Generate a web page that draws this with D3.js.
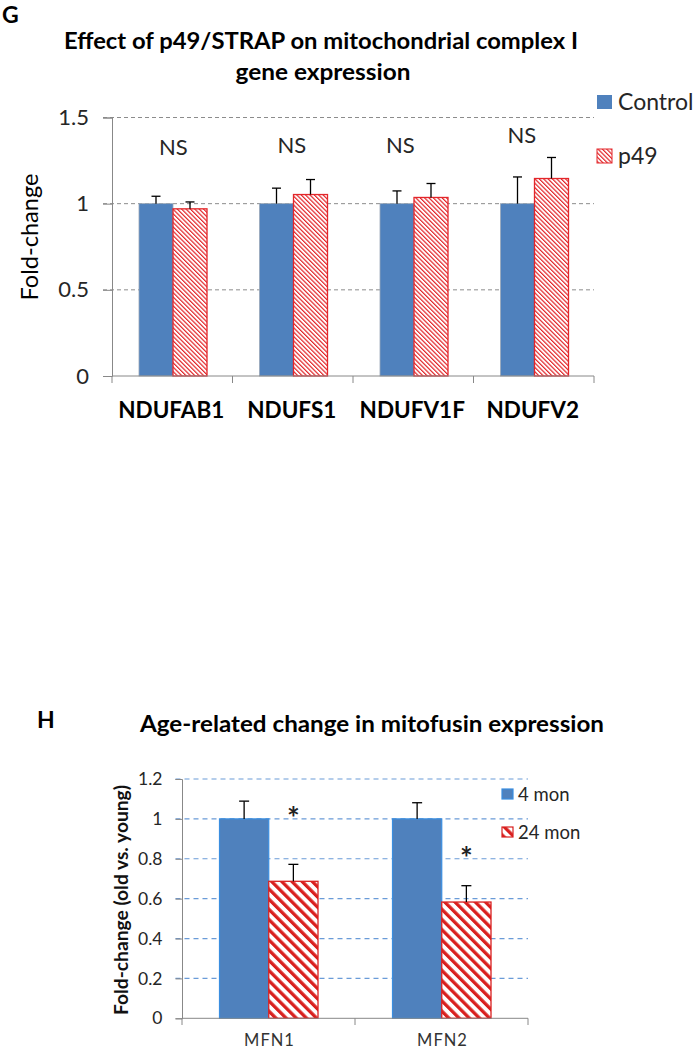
<!DOCTYPE html>
<html><head><meta charset="utf-8">
<script src="https://cdn.jsdelivr.net/npm/d3@7"></script>
<style>body{margin:0;background:#fff}svg{display:block;font-family:Lato,"Open Sans",sans-serif}</style>
</head><body>
<script>
// ---- Panel G data ----
const genesG = ["NDUFAB1","NDUFS1","NDUFV1F","NDUFV2"];
const seriesG = ["Control","p49"];
const controlG = [1.00,1.00,1.00,1.00];
const controlErrG = [0.043,0.09,0.074,0.155];
const p49G = [0.97,1.053,1.036,1.146];
const p49ErrG = [0.04,0.087,0.081,0.122];
const nsLabelsG = ["NS","NS","NS","NS"];
const nsLevelG = [1.33,1.34,1.34,1.40];
const ticksG = [0,0.5,1,1.5];
const tickLabelsG = ["0","0.5","1","1.5"];

// ---- Panel H data ----
const genesH = ["MFN1","MFN2"];
const seriesH = ["4 mon","24 mon"];
const youngH = [1.00,1.00];
const youngErrH = [0.089,0.081];
const oldH = [0.687,0.583];
const oldErrH = [0.085,0.082];
const sigLabelsH = ["*","*"];
const sigLevelH = [1.035,0.835];
const ticksH = [0,0.2,0.4,0.6,0.8,1,1.2];
const tickLabelsH = ["0","0.2","0.4","0.6","0.8","1","1.2"];

const W=695,H=1050;
const svg=d3.select("body").append("svg").attr("width",W).attr("height",H);
const defs=svg.append("defs");
function stripe(id,s,w,color){
  const p=defs.append("pattern").attr("id",id).attr("patternUnits","userSpaceOnUse")
    .attr("width",s).attr("height",s).attr("patternTransform","rotate(-45)");
  p.append("rect").attr("width",s).attr("height",s).attr("fill","#fff");
  p.append("rect").attr("x",0).attr("width",w).attr("height",s).attr("fill",color);
}
stripe("pG",3.1,1.2,"#E3262A");
stripe("pH",7.2,3.3,"#D9201F");
const blue="#4F81BD";

function fitText(sel,len){ sel.attr("textLength",len).attr("lengthAdjust","spacingAndGlyphs"); return sel; }

// ================= Panel G =================
const gG=svg.append("g");
const yG=d3.scaleLinear().domain([0,1.5]).range([376,117.5]);
const xG=d3.scaleBand().domain(genesG).range([112,594]);
const x1G=d3.scaleBand().domain(seriesG).range([27,95]);

gG.append("text").attr("x",2).attr("y",23).attr("font-weight","bold").attr("font-size",23).text("G");
fitText(gG.append("text").attr("x",321).attr("y",49).attr("text-anchor","middle").attr("font-weight","bold").attr("font-size",22).text("Effect of p49/STRAP on mitochondrial complex I"),514);
fitText(gG.append("text").attr("x",323).attr("y",80).attr("text-anchor","middle").attr("font-weight","bold").attr("font-size",22).text("gene expression"),175);

// gridlines
gG.selectAll("line.grid").data(ticksG.filter(d=>d>0)).join("line")
  .attr("x1",103).attr("x2",594).attr("y1",d=>yG(d)).attr("y2",d=>yG(d))
  .attr("stroke","#8c8c8c").attr("stroke-width",1).attr("stroke-dasharray","4,3");

const yAxG=d3.axisLeft(yG).tickValues(ticksG).tickFormat((d,i)=>tickLabelsG[i]).tickSize(9).tickPadding(14);
const yaG=gG.append("g").attr("transform","translate(112,0)").call(yAxG);
yaG.select(".domain").attr("stroke","#888");
yaG.selectAll(".tick line").attr("stroke","#888");
yaG.selectAll("text").attr("font-size",22).attr("fill","#262626").attr("font-family","Lato,sans-serif");

// bars
const grpG=gG.selectAll("g.grp").data(genesG).join("g").attr("transform",d=>`translate(${xG(d)},0)`);
grpG.append("rect").attr("x",x1G("Control")).attr("width",x1G.bandwidth())
  .attr("y",(d,i)=>yG(controlG[i])).attr("height",(d,i)=>yG(0)-yG(controlG[i]))
  .attr("fill",blue).attr("stroke","#9aa7b8").attr("stroke-width",0.8);
grpG.append("rect").attr("x",x1G("p49")).attr("width",x1G.bandwidth())
  .attr("y",(d,i)=>yG(p49G[i])).attr("height",(d,i)=>yG(0)-yG(p49G[i]))
  .attr("fill","url(#pG)").attr("stroke","#E3262A").attr("stroke-width",1.3);
function errbar(g,cx,v,cap){
  g.append("line").attr("x1",cx).attr("x2",cx).attr("y1",(d,i)=>v.yv(i)).attr("y2",(d,i)=>v.ye(i)).attr("stroke","#000").attr("stroke-width",1.3);
  g.append("line").attr("x1",cx-cap).attr("x2",cx+cap).attr("y1",(d,i)=>v.ye(i)).attr("y2",(d,i)=>v.ye(i)).attr("stroke","#000").attr("stroke-width",1.3);
}
errbar(grpG,x1G("Control")+x1G.bandwidth()/2,{yv:i=>yG(controlG[i]),ye:i=>yG(controlG[i]+controlErrG[i])},4.5);
errbar(grpG,x1G("p49")+x1G.bandwidth()/2,{yv:i=>yG(p49G[i]),ye:i=>yG(p49G[i]+p49ErrG[i])},4.5);

// NS labels
const nsShift=[1,-1,-13,-12];
grpG.append("text").attr("x",(d,i)=>xG.bandwidth()/2+nsShift[i]).attr("y",(d,i)=>yG(nsLevelG[i])+8)
  .attr("text-anchor","middle").attr("font-size",22).attr("fill","#262626").text((d,i)=>nsLabelsG[i]);

// x axis
gG.append("line").attr("x1",112).attr("x2",594).attr("y1",376).attr("y2",376).attr("stroke","#888");
gG.selectAll("line.xt").data([112].concat(genesG.map(d=>xG(d)+xG.bandwidth()))).join("line")
  .attr("x1",d=>d).attr("x2",d=>d).attr("y1",376).attr("y2",383).attr("stroke","#888");
gG.selectAll("text.xl").data(genesG).join("text")
  .attr("x",d=>xG(d)+xG.bandwidth()/2-1).attr("y",418).attr("text-anchor","middle")
  .attr("font-weight","bold").attr("font-size",22.5).attr("fill","#000").text(d=>d);

// y label
fitText(gG.append("text").attr("transform","translate(38,237) rotate(-90)").attr("text-anchor","middle")
  .attr("font-size",24).attr("fill","#000").text("Fold-change"),127);

// legend
const legG=gG.selectAll("g.leg").data(seriesG).join("g").attr("transform",(d,i)=>`translate(597,${95+i*54})`);
legG.append("rect").attr("width",15).attr("height",14).attr("fill",(d,i)=>i?"url(#pG)":blue).attr("stroke",(d,i)=>i?"#E3262A":"none").attr("stroke-width",1);
legG.append("text").attr("x",21).attr("y",15).attr("font-size",23).attr("fill","#262626").text(d=>d);

// ================= Panel H =================
const gH=svg.append("g");
const yH=d3.scaleLinear().domain([0,1.2]).range([1018.3,779]);
const xH=d3.scaleBand().domain(genesH).range([182,528]);
const x1H=d3.scaleBand().domain(seriesH).range([37.5,136]);

gH.append("text").attr("x",37).attr("y",728).attr("font-weight","bold").attr("font-size",23).text("H");
fitText(gH.append("text").attr("x",372).attr("y",732).attr("text-anchor","middle").attr("font-weight","bold").attr("font-size",22).text("Age-related change in mitofusin expression"),464);

gH.selectAll("line.grid").data(ticksH.filter(d=>d>0)).join("line")
  .attr("x1",175.5).attr("x2",528).attr("y1",d=>yH(d)).attr("y2",d=>yH(d))
  .attr("stroke","#6a9bd8").attr("stroke-width",1.2).attr("stroke-dasharray","5,4");

const yAxH=d3.axisLeft(yH).tickValues(ticksH).tickFormat((d,i)=>tickLabelsH[i]).tickSize(6.5).tickPadding(13);
const yaH=gH.append("g").attr("transform","translate(182,0)").call(yAxH);
yaH.select(".domain").attr("stroke","#888");
yaH.selectAll(".tick line").attr("stroke","#888");
yaH.selectAll("text").attr("font-size",17.5).attr("fill","#262626").attr("font-family","Lato,sans-serif");

const grpH=gH.selectAll("g.grp").data(genesH).join("g").attr("transform",d=>`translate(${xH(d)},0)`);
grpH.append("rect").attr("x",x1H("4 mon")).attr("width",x1H.bandwidth())
  .attr("y",(d,i)=>yH(youngH[i])).attr("height",(d,i)=>yH(0)-yH(youngH[i]))
  .attr("fill",blue).attr("stroke","#3a8ee0").attr("stroke-width",1.2);
grpH.append("rect").attr("x",x1H("24 mon")).attr("width",x1H.bandwidth())
  .attr("y",(d,i)=>yH(oldH[i])).attr("height",(d,i)=>yH(0)-yH(oldH[i]))
  .attr("fill","url(#pH)").attr("stroke","#D9201F").attr("stroke-width",1.3);
errbar(grpH,x1H("4 mon")+x1H.bandwidth()/2,{yv:i=>yH(youngH[i]),ye:i=>yH(youngH[i]+youngErrH[i])},5);
errbar(grpH,x1H("24 mon")+x1H.bandwidth()/2,{yv:i=>yH(oldH[i]),ye:i=>yH(oldH[i]+oldErrH[i])},5);

grpH.append("text").attr("x",x1H("24 mon")+x1H.bandwidth()/2).attr("y",(d,i)=>yH(sigLevelH[i])+17)
  .attr("text-anchor","middle").attr("font-size",30).attr("font-weight","bold").attr("fill","#222").text((d,i)=>sigLabelsH[i]);

gH.append("line").attr("x1",182).attr("x2",528).attr("y1",1018.3).attr("y2",1018.3).attr("stroke","#888");
gH.selectAll("line.xt").data([182].concat(genesH.map(d=>xH(d)+xH.bandwidth()))).join("line")
  .attr("x1",d=>d).attr("x2",d=>d).attr("y1",1018.3).attr("y2",1025).attr("stroke","#888");
gH.selectAll("text.xl").data(genesH).join("text")
  .attr("x",d=>xH(d)+xH.bandwidth()/2+1).attr("y",1045.5).attr("text-anchor","middle")
  .attr("font-size",16.5).attr("letter-spacing",1).attr("fill","#333").text(d=>d);

fitText(gH.append("text").attr("transform","translate(128,900) rotate(-90)").attr("text-anchor","middle")
  .attr("font-size",18.5).attr("font-weight","bold").attr("fill","#111").text("Fold-change (old vs. young)"),230);

const legH=gH.selectAll("g.leg").data(seriesH).join("g").attr("transform",(d,i)=>`translate(502,${789+i*38})`);
legH.append("rect").attr("width",11).attr("height",10).attr("fill",(d,i)=>i?"url(#pH)":blue)
  .attr("stroke",(d,i)=>i?"#D9201F":"#3a8ee0").attr("stroke-width",1.2);
legH.append("text").attr("x",16).attr("y",12).attr("font-size",18.5).attr("fill","#262626").text(d=>d);
</script>
</body></html>
